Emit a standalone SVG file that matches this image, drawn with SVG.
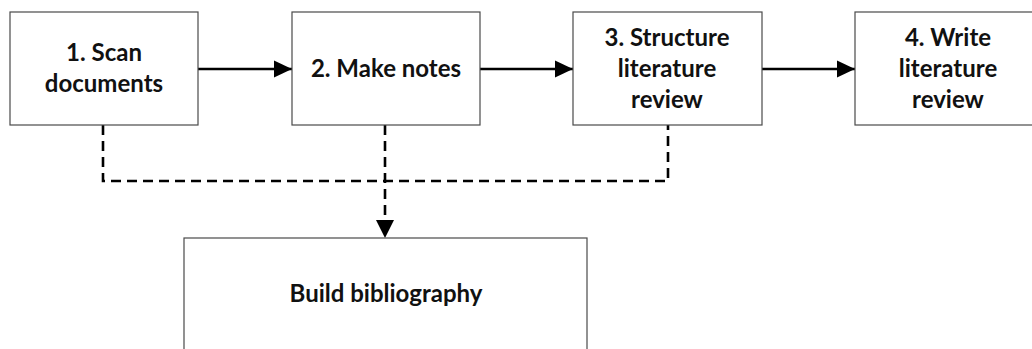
<svg xmlns="http://www.w3.org/2000/svg" width="1032" height="349" viewBox="0 0 1032 349">
<style>
.box{fill:#ffffff;stroke:#4a4a4a;stroke-width:1.2}
.lbl{font-family:Lato,"Open Sans",sans-serif;font-weight:bold;font-size:24px;fill:#111;text-anchor:middle}
.solid{stroke:#000;stroke-width:2.6;fill:none}
.dash{stroke:#000;stroke-width:2.6;fill:none;stroke-dasharray:10 6}
</style>
<defs>
<marker id="ah" markerUnits="userSpaceOnUse" markerWidth="18" markerHeight="18" viewBox="0 0 18 18" refX="18" refY="9" orient="auto">
<path d="M0,0.5 L18,9 L0,17.5 Z" fill="#000"/>
</marker>
</defs>
<rect width="1032" height="349" fill="#ffffff"/>
<g id="connectors">
<line class="solid" x1="198" y1="69" x2="292" y2="69" marker-end="url(#ah)"/>
<line class="solid" x1="480" y1="69" x2="573" y2="69" marker-end="url(#ah)"/>
<line class="solid" x1="762" y1="69" x2="855" y2="69" marker-end="url(#ah)"/>
<path class="dash" d="M103,125 V181 H668 V125"/>
<path class="dash" d="M385,125 V222"/>
<path d="M376,220 L394,220 L385,238 Z" fill="#000"/>
</g>
<g id="n1">
<rect class="box" x="10" y="12" width="188" height="113"/>
<text class="lbl" x="104" y="61">1. Scan</text>
<text class="lbl" x="104" y="92">documents</text>
</g>
<g id="n2">
<rect class="box" x="292" y="12" width="188" height="113"/>
<text class="lbl" x="386" y="77">2. Make notes</text>
</g>
<g id="n3">
<rect class="box" x="573" y="12" width="189" height="113"/>
<text class="lbl" x="667" y="46">3. Structure</text>
<text class="lbl" x="667" y="77">literature</text>
<text class="lbl" x="667" y="108">review</text>
</g>
<g id="n4">
<rect class="box" x="855" y="12" width="188" height="113"/>
<text class="lbl" x="948" y="46">4. Write</text>
<text class="lbl" x="948" y="77">literature</text>
<text class="lbl" x="948" y="108">review</text>
</g>
<g id="n5">
<rect class="box" x="184" y="238" width="403" height="120"/>
<text class="lbl" x="386" y="302">Build bibliography</text>
</g>
</svg>
